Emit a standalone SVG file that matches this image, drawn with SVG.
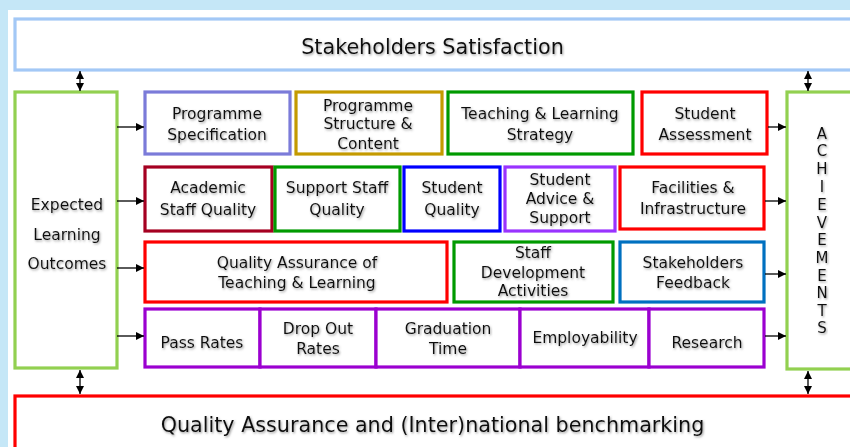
<svg xmlns="http://www.w3.org/2000/svg" width="850" height="447" viewBox="0 0 850 447">
<defs>
<marker id="ah" viewBox="0 0 10 10" refX="10" refY="5" markerWidth="8" markerHeight="8" markerUnits="userSpaceOnUse" orient="auto-start-reverse">
<path d="M0,0 L10,5 L0,10 Z" fill="#000"/>
</marker>
<filter id="sh" x="-10%" y="-30%" width="120%" height="160%">
<feDropShadow dx="1" dy="1.3" stdDeviation="0.9" flood-color="#666" flood-opacity="0.65"/>
</filter>
</defs>
<style>
.bx{fill:#fff;stroke-width:3.2}
text{font-family:"DejaVu Sans","Liberation Sans",sans-serif;font-size:15.5px;fill:#111;text-anchor:middle;filter:url(#sh)}
.big{font-size:20.7px}
.ach{font-size:15px}
.cn{stroke:#000;stroke-width:1.3;fill:none;marker-end:url(#ah)}
.dbl{marker-start:url(#ah)}
</style>
<rect x="0" y="0" width="850" height="447" fill="#c5e7f7"/>
<rect x="8" y="10" width="842" height="437" fill="#fff"/>

<g id="stakeholders-satisfaction">
<rect class="bx" x="15" y="19" width="845" height="51" stroke="#a3c8f6"/>
<text class="big" x="432.5" y="54">Stakeholders Satisfaction</text>
</g>

<g id="expected-learning-outcomes">
<rect class="bx" x="15" y="92" width="102" height="276" stroke="#92d050"/>
<text x="67" y="210">Expected</text>
<text x="67" y="240">Learning</text>
<text x="67" y="269">Outcomes</text>
</g>

<g id="achievements">
<rect class="bx" x="787" y="92" width="80" height="277" stroke="#92d050"/>
<text class="ach" x="822" y="139">A</text>
<text class="ach" x="822" y="156">C</text>
<text class="ach" x="822" y="174">H</text>
<text class="ach" x="822" y="192">I</text>
<text class="ach" x="822" y="210">E</text>
<text class="ach" x="822" y="228">V</text>
<text class="ach" x="822" y="245">E</text>
<text class="ach" x="822" y="263">M</text>
<text class="ach" x="822" y="281">E</text>
<text class="ach" x="822" y="298">N</text>
<text class="ach" x="822" y="316">T</text>
<text class="ach" x="822" y="333">S</text>
</g>

<g id="programme-specification">
<rect class="bx" x="145" y="92" width="145" height="62" stroke="#7b7bd9"/>
<text x="217" y="119">Programme</text>
<text x="217" y="140">Specification</text>
</g>
<g id="programme-structure">
<rect class="bx" x="296" y="92" width="146" height="62" stroke="#c49a00"/>
<text x="368" y="111">Programme</text>
<text x="368" y="129">Structure &amp;</text>
<text x="368" y="149">Content</text>
</g>
<g id="teaching-learning-strategy">
<rect class="bx" x="448" y="92" width="185" height="62" stroke="#009a00"/>
<text x="540" y="119">Teaching &amp; Learning</text>
<text x="540" y="140">Strategy</text>
</g>
<g id="student-assessment">
<rect class="bx" x="642" y="92" width="125" height="62" stroke="#ff0000"/>
<text x="705" y="119">Student</text>
<text x="705" y="140">Assessment</text>
</g>

<g id="academic-staff-quality">
<rect class="bx" x="145" y="167" width="127" height="64" stroke="#a50021"/>
<text x="208" y="193">Academic</text>
<text x="208" y="215">Staff Quality</text>
</g>
<g id="support-staff-quality">
<rect class="bx" x="275" y="167" width="125" height="64" stroke="#009a00"/>
<text x="337" y="193">Support Staff</text>
<text x="337" y="215">Quality</text>
</g>
<g id="student-quality">
<rect class="bx" x="404" y="167" width="96" height="64" stroke="#0000ff"/>
<text x="452" y="193">Student</text>
<text x="452" y="215">Quality</text>
</g>
<g id="student-advice-support">
<rect class="bx" x="505" y="167" width="110" height="64" stroke="#9933ff"/>
<text x="560" y="185">Student</text>
<text x="560" y="204">Advice &amp;</text>
<text x="560" y="223">Support</text>
</g>
<g id="facilities-infrastructure">
<rect class="bx" x="620" y="167" width="144" height="62" stroke="#ff0000"/>
<text x="693" y="193">Facilities &amp;</text>
<text x="693" y="214">Infrastructure</text>
</g>

<g id="qa-teaching-learning">
<rect class="bx" x="145" y="242" width="302" height="60" stroke="#ff0000"/>
<text x="297" y="268">Quality Assurance of</text>
<text x="297" y="288">Teaching &amp; Learning</text>
</g>
<g id="staff-development">
<rect class="bx" x="454" y="242" width="159" height="60" stroke="#009a00"/>
<text x="533" y="258">Staff</text>
<text x="533" y="278">Development</text>
<text x="533" y="296">Activities</text>
</g>
<g id="stakeholders-feedback">
<rect class="bx" x="620" y="242" width="144" height="60" stroke="#0070c0"/>
<text x="693" y="268">Stakeholders</text>
<text x="693" y="288">Feedback</text>
</g>

<g id="pass-rates">
<rect class="bx" x="145" y="309" width="115" height="58" stroke="#9b00d0"/>
<text x="202" y="348">Pass Rates</text>
</g>
<g id="drop-out-rates">
<rect class="bx" x="260" y="309" width="116" height="58" stroke="#9b00d0"/>
<text x="318" y="334">Drop Out</text>
<text x="318" y="354">Rates</text>
</g>
<g id="graduation-time">
<rect class="bx" x="376" y="309" width="144" height="58" stroke="#9b00d0"/>
<text x="448" y="334">Graduation</text>
<text x="448" y="354">Time</text>
</g>
<g id="employability">
<rect class="bx" x="520" y="309" width="129" height="58" stroke="#9b00d0"/>
<text x="585" y="343">Employability</text>
</g>
<g id="research">
<rect class="bx" x="649" y="309" width="115" height="58" stroke="#9b00d0"/>
<text x="707" y="348">Research</text>
</g>

<g id="qa-benchmarking">
<rect class="bx" x="15" y="396" width="845" height="60" stroke="#ff0000"/>
<text class="big" x="432.5" y="432">Quality Assurance and (Inter)national benchmarking</text>
</g>

<g id="connectors">
<line class="cn dbl" x1="80" y1="71" x2="80" y2="91"/>
<line class="cn dbl" x1="808" y1="71" x2="808" y2="91"/>
<line class="cn dbl" x1="80" y1="370" x2="80" y2="394"/>
<line class="cn dbl" x1="808" y1="371" x2="808" y2="394"/>
<line class="cn" x1="117" y1="127" x2="144" y2="127"/>
<line class="cn" x1="117" y1="201" x2="144" y2="201"/>
<line class="cn" x1="117" y1="268" x2="144" y2="268"/>
<line class="cn" x1="117" y1="336" x2="144" y2="336"/>
<line class="cn" x1="768" y1="127" x2="786" y2="127"/>
<line class="cn" x1="765" y1="201" x2="786" y2="201"/>
<line class="cn" x1="765" y1="274" x2="786" y2="274"/>
<line class="cn" x1="765" y1="336" x2="786" y2="336"/>
</g>
</svg>
